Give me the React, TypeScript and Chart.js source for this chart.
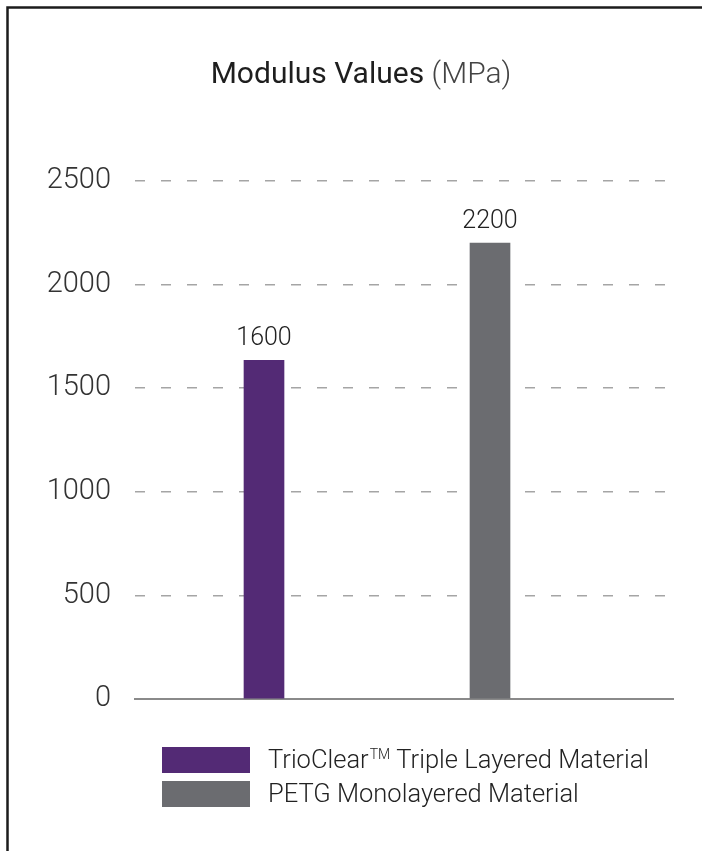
import React, { useEffect, useRef } from "react";
import { Chart, registerables } from "chart.js";

Chart.register(...registerables);

const categories = ["TrioClear™ Triple Layered Material", "PETG Monolayered Material"];
const barValues = [1635, 2200];
const valueLabels = ["1600", "2200"];
const yTicks = [0, 500, 1000, 1500, 2000, 2500];
const barColors = ["#532a75", "#6b6c70"];
const titleMain = "Modulus Values";
const titleUnit = "(MPa)";

const FONT = "Roboto, 'Liberation Sans', sans-serif";

const overlay = {
  id: "overlay",
  afterDraw(chart: any) {
    const ctx = chart.ctx;
    ctx.save();
    // frame
    ctx.strokeStyle = "#1c1c1c";
    ctx.lineWidth = 2.5;
    ctx.beginPath();
    ctx.moveTo(702, 7.5);
    ctx.lineTo(7.5, 7.5);
    ctx.lineTo(7.5, 851);
    ctx.stroke();

    // title
    ctx.textBaseline = "alphabetic";
    ctx.textAlign = "left";
    ctx.font = `400 30px ${FONT}`;
    const w1 = ctx.measureText(titleMain + " ").width;
    ctx.font = `300 30px ${FONT}`;
    const w2 = ctx.measureText(titleUnit).width;
    const tx = 361 - (w1 + w2) / 2;
    ctx.font = `400 30px ${FONT}`;
    ctx.fillStyle = "#1e1e1e";
    ctx.fillText(titleMain + " ", tx, 83);
    ctx.font = `300 30px ${FONT}`;
    ctx.fillStyle = "#444";
    ctx.fillText(titleUnit, tx + w1, 83);

    // value labels
    const meta = chart.getDatasetMeta(0);
    ctx.font = `300 25px ${FONT}`;
    ctx.fillStyle = "#222";
    ctx.textAlign = "center";
    meta.data.forEach((bar: any, i: number) => {
      ctx.fillText(valueLabels[i], bar.x, bar.y - 15);
    });

    // legend
    const boxX = 162;
    const boxW = 88;
    const boxH = 26;
    const rows = [747, 781];
    categories.forEach((name, i) => {
      const y = rows[i];
      ctx.fillStyle = barColors[i];
      ctx.fillRect(boxX, y, boxW, boxH);
      ctx.fillStyle = "#222";
      ctx.textAlign = "left";
      const base = y + 21;
      let x = 268;
      const parts = name.split("™");
      ctx.font = `300 25.5px ${FONT}`;
      ctx.fillText(parts[0], x, base);
      x += ctx.measureText(parts[0]).width;
      if (parts.length > 1) {
        ctx.font = `300 14px ${FONT}`;
        ctx.fillText("TM", x + 1, base - 9);
        x += ctx.measureText("TM").width + 1;
        ctx.font = `300 25.5px ${FONT}`;
        ctx.fillText(parts[1], x, base);
      }
    });
    ctx.restore();
  },
};

export default function App() {
  const ref = useRef<HTMLCanvasElement>(null);
  useEffect(() => {
    document.body.style.margin = "0";
    const canvas = ref.current!;
    const chart = new Chart(canvas, {
      type: "bar",
      data: {
        datasets: [
          {
            data: barValues.map((v, i) => ({ x: i, y: v })),
            backgroundColor: barColors,
            barThickness: 40,
          },
        ],
      },
      options: {
        responsive: false,
        animation: false,
        devicePixelRatio: 1,
        layout: { padding: { left: 0, right: 29, top: 181, bottom: 152 } },
        plugins: { legend: { display: false }, tooltip: { enabled: false }, title: { display: false } },
        scales: {
          x: {
            type: "linear",
            offset: false,
            min: -0.5708,
            max: 1.8097,
            ticks: { display: false },
            grid: { display: false, drawTicks: false, offset: false },
            border: { display: true, color: "#8a8a8a", width: 2 },
            afterFit: (s: any) => {
              s.height = 0;
            },
          },
          y: {
            min: 0,
            max: 2500,
            afterBuildTicks: (s: any) => {
              s.ticks = yTicks.map((v) => ({ value: v }));
            },
            ticks: {
              padding: 24,
              color: "#333",
              font: { family: FONT, size: 29, weight: "300" },
              callback: (v: any) => String(v),
            },
            grid: {
              drawTicks: false,
              lineWidth: 1.5,
              color: (c: any) => (c.tick && c.tick.value === 0 ? "rgba(0,0,0,0)" : "#a5a5a5"),
            },
            border: { display: false, dash: [10, 16] },
            afterFit: (s: any) => {
              s.width = 135;
            },
          },
        },
      } as any,
      plugins: [overlay],
    });
    return () => chart.destroy();
  }, []);
  return (
    <canvas
      ref={ref}
      width={702}
      height={851}
      style={{ display: "block", width: 702, height: 851 }}
    />
  );
}
